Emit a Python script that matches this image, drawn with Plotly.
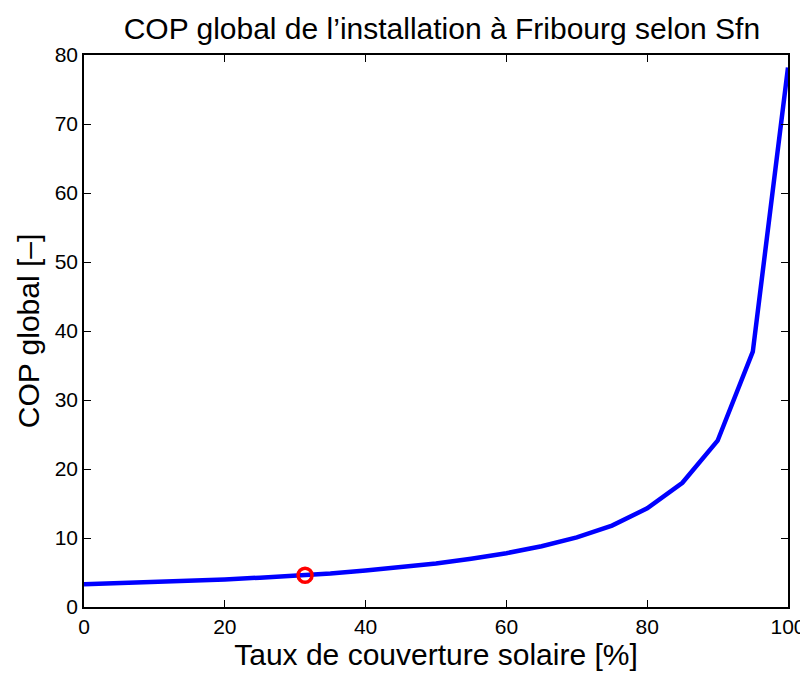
import plotly.graph_objects as go

taux = [0, 5, 10, 15, 20, 25, 30, 35, 40, 45, 50, 55, 60, 65, 70, 75, 80, 85, 90, 95, 100]
cop = [3.3, 3.45, 3.6, 3.8, 4.0, 4.25, 4.5, 4.85, 5.3, 5.75, 6.3, 7.0, 7.8, 8.8, 10.1, 11.8, 14.3, 18.0, 24.1, 37.0, 78.2]
point_x = [31.4]
point_y = [4.6]

x_ticks = [0, 20, 40, 60, 80, 100]
y_ticks = [0, 10, 20, 30, 40, 50, 60, 70, 80]

font = "Liberation Sans, Arial, Helvetica, sans-serif"

fig = go.Figure()
fig.add_trace(go.Scatter(x=taux, y=cop, mode="lines",
                         line=dict(color="#0000ff", width=4.5), showlegend=False))
fig.add_trace(go.Scatter(x=point_x, y=point_y, mode="markers",
                         marker=dict(symbol="circle-open", size=14, color="#ff0000",
                                     line=dict(width=3.5, color="#ff0000")),
                         showlegend=False))

axis_common = dict(showgrid=False, zeroline=False, showline=True, linecolor="black",
                   linewidth=1.5, mirror="allticks", ticks="inside", ticklen=7,
                   tickcolor="black", tickwidth=1,
                   tickfont=dict(family=font, size=21, color="black"))

fig.update_xaxes(range=[0, 100], tickvals=x_ticks, ticktext=[str(v) for v in x_ticks],
                 title=dict(text="Taux de couverture solaire [%]",
                            font=dict(family=font, size=30, color="black"), standoff=2),
                 **axis_common)
fig.update_yaxes(range=[0, 80], tickvals=y_ticks, ticktext=[str(v) for v in y_ticks],
                 title=dict(text="COP global [–]",
                            font=dict(family=font, size=30, color="black"), standoff=6),
                 **axis_common)

fig.update_layout(
    width=808, height=673,
    margin=dict(l=76, r=28, t=47, b=74, autoexpand=False),
    paper_bgcolor="white", plot_bgcolor="white",
    title=dict(text="COP global de l’installation à Fribourg selon Sfn",
               font=dict(family=font, size=30, color="black"),
               x=0.537, xanchor="center", y=0.970, yanchor="middle"),
)

fig.write_html("out.html")
